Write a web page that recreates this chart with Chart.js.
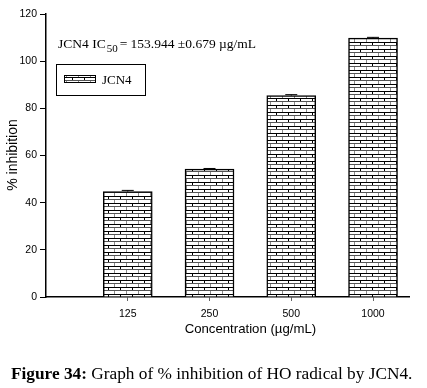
<!DOCTYPE html>
<html>
<head>
<meta charset="utf-8">
<script src="https://cdn.jsdelivr.net/npm/chart.js@4.4.1/dist/chart.umd.min.js"></script>
<style>
  html, body { margin: 0; padding: 0; background: #fff; }
  #wrap { width: 427px; height: 388px; position: relative; }
</style>
</head>
<body>
<div id="wrap"><canvas id="myChart"></canvas></div>
<script>
// concentrations (µg/mL) and % inhibition
const concentrations = ['125', '250', '500', '1000'];
const inhibition = [44.7, 54.2, 85.4, 109.8];
const inhibitionErr = [0.5, 0.3, 0.4, 0.3];
const yTicks = [0, 20, 40, 60, 80, 100, 120];

const ctx = document.getElementById('myChart').getContext('2d');

// brick fill like the SigmaPlot pattern
function brickPattern() {
    const c = document.createElement('canvas');
    c.width = 12;
    c.height = 7;
    const p = c.getContext('2d');
    p.fillStyle = '#fff';
    p.fillRect(0, 0, 12, 7);
    p.fillStyle = '#000';
    p.fillRect(0, 0, 12, 1);
    p.fillRect(0, 1, 1, 2);
    p.fillStyle = '#555';
    p.fillRect(0, 3, 12, 1);
    p.fillStyle = '#888';
    p.fillRect(6, 4, 1, 3);
    return ctx.createPattern(c, 'repeat');
}
const bricks = brickPattern();

const points = inhibition.map((v, i) => ({ x: i + 1, y: v }));

const serif = '"Liberation Serif", "Times New Roman", serif';
const sans = '"Liberation Sans", Arial, sans-serif';

const extrasPlugin = {
    id: 'extras',
    afterDatasetsDraw: (chart) => {
        const { ctx, scales } = chart;
        const xs = scales.x, ys = scales.y;
        ctx.save();
        // error bars (upper cap only shows above the bar)
        ctx.strokeStyle = '#000';
        ctx.lineWidth = 1;
        inhibition.forEach((v, i) => {
            const x = xs.getPixelForValue(i + 1);
            const yTop = ys.getPixelForValue(v + inhibitionErr[i]);
            const yMid = ys.getPixelForValue(v);
            ctx.beginPath();
            ctx.moveTo(x, yMid);
            ctx.lineTo(x, yTop);
            ctx.moveTo(x - 6, yTop);
            ctx.lineTo(x + 6, yTop);
            ctx.stroke();
        });
        ctx.restore();
    },
    afterDraw: (chart) => {
        const { ctx, scales } = chart;
        const xs = scales.x;
        ctx.save();
        ctx.fillStyle = '#000';

        // IC50 annotation
        ctx.font = '13.5px ' + serif;
        ctx.textBaseline = 'alphabetic';
        ctx.textAlign = 'left';
        let tx = 58;
        const ty = 48;
        ctx.fillText('JCN4 IC', tx, ty);
        tx += ctx.measureText('JCN4 IC').width + 1;
        ctx.font = '11px ' + serif;
        ctx.fillText('50', tx, ty + 4);
        tx += ctx.measureText('50').width + 2;
        ctx.font = '13.5px ' + serif;
        ctx.fillText('= 153.944 \u00b10.679 \u00b5g/mL', tx, ty);

        // legend box
        ctx.strokeStyle = '#000';
        ctx.lineWidth = 1;
        ctx.strokeRect(56.5, 64.5, 89, 31);
        ctx.fillStyle = bricks;
        ctx.fillRect(64, 75, 32, 8);
        ctx.strokeRect(64.5, 75.5, 31, 7);
        ctx.fillStyle = '#000';
        ctx.font = '13px ' + serif;
        ctx.fillText('JCN4', 102, 84);

        // y title
        ctx.font = '14px ' + sans;
        ctx.textAlign = 'center';
        ctx.textBaseline = 'middle';
        ctx.save();
        ctx.translate(13, 155);
        ctx.rotate(-Math.PI / 2);
        ctx.fillText('% inhibition', 0, 0);
        ctx.restore();

        // x title centred on the categories
        const cx = (xs.getPixelForValue(1) + xs.getPixelForValue(concentrations.length)) / 2;
        ctx.font = '13.2px ' + sans;
        ctx.fillText('Concentration (\u00b5g/mL)', cx, 329);

        // caption
        ctx.textAlign = 'left';
        ctx.textBaseline = 'alphabetic';
        const bold = 'bold 17.3px ' + serif;
        const reg = '17.3px ' + serif;
        const a = 'Figure 34:';
        const b = ' Graph of % inhibition of HO radical by JCN4.';
        ctx.font = bold;
        const wa = ctx.measureText(a).width;
        const capX = 11;
        ctx.fillText(a, capX, 379);
        ctx.font = reg;
        ctx.fillText(b, capX + wa, 379);
        ctx.restore();
    }
};

new Chart(ctx, {
    type: 'bar',
    data: {
        datasets: [{
            label: 'JCN4',
            data: points,
            backgroundColor: bricks,
            borderColor: '#000',
            borderWidth: 1.5,
            barThickness: 49
        }]
    },
    plugins: [extrasPlugin],
    options: {
        responsive: true,
        maintainAspectRatio: false,
        animation: false,
        layout: { padding: { left: 0, right: 18, top: 14, bottom: 0 } },
        plugins: {
            legend: { display: false },
            tooltip: { enabled: false }
        },
        scales: {
            x: {
                type: 'linear',
                min: 0,
                max: 4.44,
                offset: false,
                afterBuildTicks: (scale) => {
                    scale.ticks = concentrations.map((_, i) => ({ value: i + 1 }));
                },
                afterFit: (scale) => { scale.height = 91; },
                ticks: {
                    color: '#000',
                    font: { family: sans, size: 10.5 },
                    padding: 7,
                    callback: (value) => concentrations[value - 1] || ''
                },
                grid: {
                    offset: false,
                    drawOnChartArea: false,
                    drawTicks: true,
                    tickLength: 4,
                    tickColor: '#666'
                },
                border: { color: '#000', width: 1.5 }
            },
            y: {
                min: 0,
                max: 120,
                afterBuildTicks: (scale) => {
                    scale.ticks = yTicks.map(v => ({ value: v }));
                },
                afterFit: (scale) => { scale.width = 46; },
                ticks: {
                    color: '#000',
                    font: { family: sans, size: 10.5 },
                    padding: 3
                },
                grid: {
                    drawOnChartArea: false,
                    drawTicks: true,
                    tickLength: 6,
                    tickColor: '#000'
                },
                border: { color: '#000', width: 1.5 }
            }
        }
    }
});
</script>
</body>
</html>
